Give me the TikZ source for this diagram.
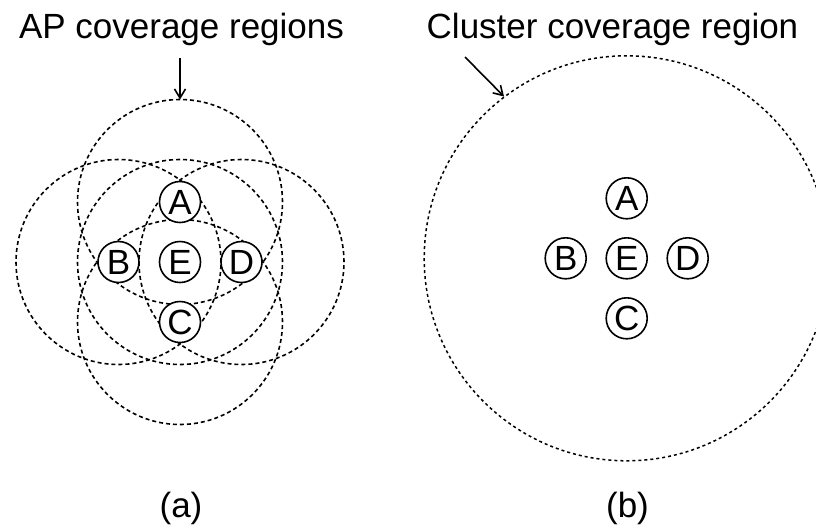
\documentclass[tikz,border=0pt]{standalone}
\usepackage{fontspec}
\setmainfont{Liberation Sans}
\usetikzlibrary{arrows.meta,backgrounds}
\begin{document}
\begin{tikzpicture}[x=1pt,y=-1pt,
  ap/.style={circle,draw,fill=white,line width=1.6pt,minimum size=41pt,inner sep=0pt,
    font=\fontsize{35}{35}\selectfont},
  cov/.style={dash pattern=on 4pt off 3pt,line width=1.6pt},
  clu/.style={dash pattern=on 3pt off 3pt,line width=1.5pt},
  lab/.style={font=\fontsize{35}{40}\selectfont,anchor=base,inner sep=0pt},
  pointer/.style={-{Straight Barb[length=9pt,width=11pt]},line width=1.6pt}]
\useasboundingbox (0,0) rectangle (816,531);
\clip (0,0) rectangle (816,531);

% labels
\node[lab] (lblA) at (181.5,38) {AP coverage regions};
\node[lab] (lblB) at (612.5,38) {Cluster coverage region};
\node[lab] (capa) at (181,517) {(a)};
\node[lab] (capb) at (627.5,517) {(b)};

% left: APs
\node[ap] (A1) at (180,202) {A};
\node[ap] (B1) at (118.5,262) {B};
\node[ap] (E1) at (180,262) {E};
\node[ap] (D1) at (241.5,262) {D};
\node[ap] (C1) at (180,322) {C};

\begin{pgfonlayer}{background}
  \foreach \n in {A1,B1,C1,D1,E1}
    \draw[cov] (\n) circle[radius=102.5pt];
\end{pgfonlayer}

\coordinate (arA) at (180,58);
\coordinate (topA) at (180,99.5);
\draw[pointer] (arA) -- (topA);

% right: cluster
\node[ap] (A2) at (626.7,198.3) {A};
\node[ap] (B2) at (565.7,258.3) {B};
\node[ap] (E2) at (626.7,258.3) {E};
\node[ap] (D2) at (687.7,258.3) {D};
\node[ap] (C2) at (626.7,318.3) {C};

\draw[clu] (E2) circle[radius=202.5pt];

\coordinate (arB) at (465,57);
\coordinate (rimB) at (504,96.5);
\draw[pointer] (arB) -- (rimB);
\end{tikzpicture}
\end{document}
